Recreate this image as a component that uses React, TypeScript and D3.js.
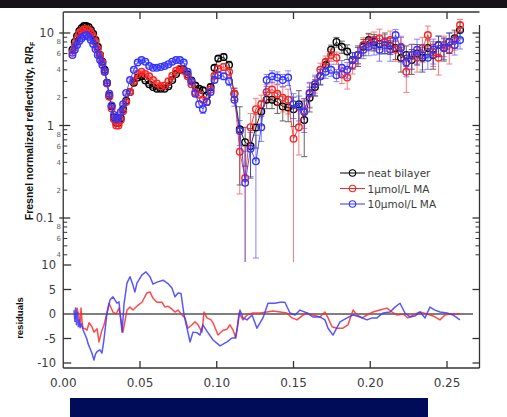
import React from 'react';
import * as d3 from 'd3';

// Momentum transfer grid (1/Å) shared by the three reflectivity curves
const Q = [
  0.006, 0.0075, 0.009, 0.0105, 0.012, 0.0135, 0.015, 0.0165, 0.018, 0.0195,
  0.021, 0.0225, 0.024, 0.0255, 0.027, 0.0285, 0.03, 0.0315, 0.033, 0.0345,
  0.036, 0.0375, 0.039, 0.041, 0.0435, 0.046, 0.0485, 0.051, 0.0535, 0.056,
  0.0585, 0.061, 0.0635, 0.066, 0.0685, 0.071, 0.0735, 0.076, 0.0785, 0.081,
  0.0835, 0.086, 0.0885, 0.091, 0.0935, 0.096, 0.0985, 0.101, 0.1045, 0.108,
  0.1115, 0.115, 0.1185, 0.122, 0.1255, 0.129, 0.1325, 0.136, 0.1395, 0.143,
  0.1465, 0.15, 0.1535, 0.157, 0.1605, 0.164, 0.1675, 0.171, 0.1745, 0.178,
  0.1815, 0.185, 0.1885, 0.192, 0.1955, 0.199, 0.2025, 0.206, 0.2095, 0.213,
  0.2165, 0.22, 0.2235, 0.227, 0.2305, 0.234, 0.2375, 0.241, 0.2445, 0.248,
  0.2515, 0.255, 0.2585,
];

// Fresnel-normalised reflectivity R/RF
const neatBilayer = [
  6.6, 8.0, 9.3, 10.5, 11.3, 11.9, 11.9, 11.6, 10.8, 9.8,
  8.4, 7.1, 5.8, 4.9, 4.0, 2.9, 2.1, 1.6, 1.23, 1.07,
  1.07, 1.2, 1.5, 1.85, 2.3, 2.9, 3.3, 3.4, 3.06, 2.8,
  2.6, 2.5, 2.5, 2.5, 2.65, 3.1, 3.6, 4.0, 4.0, 3.55,
  3.06, 2.7, 2.5, 2.4, 2.1, 2.6, 4.2, 5.3, 5.5, 4.5,
  2.2, 0.91, 0.66, 0.6, 0.95, 1.42, 1.9, 1.9, 1.8, 1.6,
  1.57, 1.5, 1.7, 1.15, 2.0, 2.6, 3.4, 4.5, 6.6, 8.0,
  7.1, 6.3, 5.1, 5.8, 7.1, 8.4, 8.0, 7.6, 8.0, 7.3,
  6.9, 5.4, 5.8, 5.1, 6.0, 5.4, 6.9, 5.8, 7.4, 6.9,
  8.0, 8.8, 10.8,
];
const ma1 = [
  6.1, 7.3, 8.6, 9.8, 10.5, 11.0, 11.0, 10.8, 10.0, 9.1,
  8.0, 6.7, 5.7, 4.8, 3.8, 2.85, 2.05, 1.53, 1.17, 1.0,
  1.0, 1.15, 1.43, 1.8, 2.3, 3.0, 3.6, 3.8, 3.6, 3.4,
  3.1, 2.85, 2.65, 2.7, 3.0, 3.45, 3.9, 4.1, 3.9, 3.4,
  2.8, 2.3, 2.15, 1.9, 1.8, 2.45, 3.45, 4.1, 4.3, 3.8,
  2.2, 0.52, 0.27, 0.96, 1.5, 1.7, 2.3, 2.45, 2.2, 2.0,
  1.9, 0.72, 0.96, 1.43, 2.2, 2.8, 4.0, 4.9, 5.8, 5.4,
  3.55, 3.3, 4.5, 5.8, 7.4, 8.0, 8.4, 8.8, 8.0, 8.4,
  6.6, 7.1, 3.8, 5.8, 5.4, 6.9, 9.5, 6.2, 5.4, 7.4,
  6.6, 8.4, 12.2,
];
const ma10 = [
  5.8, 6.6, 7.4, 8.2, 8.8, 9.3, 9.5, 9.1, 8.4, 7.6,
  6.7, 5.8, 5.1, 4.5, 3.8, 2.9, 2.2, 1.65, 1.3, 1.17,
  1.2, 1.4, 1.7, 2.25, 3.1, 4.0, 4.8, 5.1, 4.9, 4.4,
  4.2, 4.2, 4.3, 4.4, 4.6, 4.9, 5.1, 5.1, 4.8, 3.8,
  3.0, 2.2, 1.7, 1.5, 1.8, 2.3, 3.1, 3.5, 3.4, 3.0,
  1.9, 0.87, 0.24, 0.56, 0.41, 0.96, 3.1, 3.4, 3.3, 3.1,
  3.3, 1.7, 1.6, 1.4, 2.25, 2.8, 3.4, 3.8, 4.0, 3.5,
  4.2, 4.0, 5.1, 5.8, 6.6, 7.1, 7.4, 6.6, 7.4, 6.6,
  9.5, 6.9, 4.8, 5.8, 6.6, 5.7, 5.4, 6.6, 7.4, 6.9,
  8.0, 7.4, 8.4,
];

// Relative uncertainties (dR / R)
const neatBilayerErr = [
  0.02, 0.02, 0.02, 0.02, 0.02, 0.02, 0.02, 0.02, 0.02, 0.02,
  0.02, 0.02, 0.02, 0.02, 0.02, 0.02, 0.02, 0.02, 0.02, 0.02,
  0.02, 0.02, 0.02, 0.03, 0.03, 0.03, 0.03, 0.03, 0.03, 0.03,
  0.03, 0.03, 0.03, 0.03, 0.03, 0.03, 0.03, 0.03, 0.03, 0.03,
  0.03, 0.05, 0.05, 0.06, 0.08, 0.08, 0.06, 0.06, 0.08, 0.1,
  0.15, 0.75, 0.45, 0.55, 0.4, 0.3, 0.2, 0.2, 0.25, 0.3,
  0.3, 0.35, 0.4, 0.6, 0.3, 0.2, 0.18, 0.15, 0.12, 0.12,
  0.15, 0.18, 0.2, 0.25, 0.2, 0.18, 0.2, 0.22, 0.25, 0.2,
  0.25, 0.3, 0.25, 0.3, 0.25, 0.3, 0.22, 0.3, 0.25, 0.28,
  0.25, 0.22, 0.2,
];
const ma1Err = [
  0.02, 0.02, 0.02, 0.02, 0.02, 0.02, 0.02, 0.02, 0.02, 0.02,
  0.02, 0.02, 0.02, 0.02, 0.02, 0.02, 0.02, 0.02, 0.02, 0.02,
  0.02, 0.02, 0.02, 0.03, 0.03, 0.03, 0.03, 0.03, 0.03, 0.03,
  0.03, 0.03, 0.03, 0.03, 0.03, 0.03, 0.03, 0.03, 0.03, 0.03,
  0.03, 0.05, 0.06, 0.06, 0.08, 0.07, 0.06, 0.06, 0.08, 0.1,
  0.15, 0.65, 1.2, 0.4, 0.3, 0.25, 0.2, 0.2, 0.25, 0.3,
  0.3, 1.2, 0.5, 0.35, 0.3, 0.2, 0.18, 0.15, 0.15, 0.15,
  0.2, 0.25, 0.2, 0.2, 0.2, 0.2, 0.22, 0.25, 0.2, 0.25,
  0.25, 0.3, 0.4, 0.3, 0.3, 0.3, 0.25, 0.3, 0.35, 0.25,
  0.3, 0.22, 0.15,
];
const ma10Err = [
  0.02, 0.02, 0.02, 0.02, 0.02, 0.02, 0.02, 0.02, 0.02, 0.02,
  0.02, 0.02, 0.02, 0.02, 0.02, 0.02, 0.02, 0.02, 0.02, 0.02,
  0.02, 0.02, 0.02, 0.03, 0.03, 0.03, 0.03, 0.03, 0.03, 0.03,
  0.03, 0.03, 0.03, 0.03, 0.03, 0.03, 0.03, 0.03, 0.03, 0.03,
  0.03, 0.06, 0.08, 0.1, 0.08, 0.07, 0.06, 0.07, 0.08, 0.1,
  0.15, 0.3, 1.2, 0.5, 0.91, 0.3, 0.15, 0.15, 0.15, 0.15,
  0.18, 0.3, 0.3, 0.4, 0.3, 0.25, 0.2, 0.15, 0.15, 0.15,
  0.2, 0.2, 0.2, 0.2, 0.2, 0.2, 0.22, 0.25, 0.2, 0.25,
  0.15, 0.3, 0.3, 0.3, 0.3, 0.3, 0.25, 0.3, 0.25, 0.25,
  0.25, 0.22, 0.2,
];

// Normalised fit residuals
const res1Q = [
  0.0076, 0.009, 0.0102, 0.0109, 0.0116, 0.0122, 0.0129, 0.0142, 0.0155, 0.0168,
  0.0187, 0.02, 0.022, 0.0233, 0.0252, 0.0265, 0.0285, 0.0298, 0.0324, 0.0344,
  0.0363, 0.0389, 0.0415, 0.0435, 0.0454, 0.0487, 0.0513, 0.0545, 0.0565, 0.0585,
  0.0611, 0.0643, 0.0663, 0.0682, 0.0708, 0.0728, 0.0748, 0.0774, 0.0793, 0.0812,
  0.0839, 0.0858, 0.0878, 0.0904, 0.0917, 0.0936, 0.0963, 0.0976, 0.1008, 0.1041,
  0.1067, 0.1086, 0.1106, 0.1125, 0.1145, 0.1171, 0.1197, 0.1236, 0.1282, 0.1327,
  0.1366, 0.1412, 0.1457, 0.149, 0.1523, 0.1555, 0.1588, 0.1627, 0.1672, 0.1705,
  0.1725, 0.1751, 0.1783, 0.1822, 0.1855, 0.1888, 0.1914, 0.1946, 0.1979, 0.2018,
  0.2063, 0.2109, 0.2142, 0.2174, 0.2213, 0.2246, 0.2292, 0.2324, 0.237, 0.2409,
  0.2454, 0.2487, 0.2519, 0.2584,
];
const res1 = [
  -1.0, 1.2, -0.5, -2.5, 1.2, -1.5, -2.9, -3.0, -3.3, -1.8,
  -2.6, -3.7, -3.0, -5.7, -3.3, -2.3, 0.2, 2.2, 0.4, 0.0,
  1.2, -3.7, 0.8, 1.4, 0.8, 1.8, 2.4, 4.3, 4.5, 3.2,
  2.4, 2.4, 1.4, 1.6, 1.0, 0.4, 0.8, -0.2, -0.8, -2.9,
  -2.2, -1.6, -2.2, -3.7, 0.4, -0.8, -1.2, -1.8, -4.3, -3.3,
  -3.1, -2.2, -3.3, -4.9, 0.2, -1.2, -0.2, 0.2, 0.2, 0.4,
  0.6, 0.4, 0.2, -0.8, -1.2, -0.4, 0.2, -0.2, -0.6, 0.4,
  -0.8, -2.6, -2.9, -2.9, -2.2, 0.8, -0.2, -0.8, -0.2, 0.4,
  0.8, 1.2, 0.4, -0.2, 0.0, -0.8, 0.0, 0.4, 0.0, -0.4,
  -1.2, -0.2, 0.0, 0.0,
];
const res10Q = [
  0.007, 0.0076, 0.008, 0.0086, 0.0092, 0.0098, 0.0104, 0.011, 0.0118, 0.0129,
  0.0142, 0.0155, 0.0161, 0.0174, 0.0187, 0.02, 0.021, 0.022, 0.0239, 0.0252,
  0.0265, 0.0285, 0.0305, 0.0324, 0.035, 0.0363, 0.0383, 0.0396, 0.0415, 0.0435,
  0.0454, 0.0467, 0.048, 0.0513, 0.0539, 0.0565, 0.0585, 0.0611, 0.065, 0.0682,
  0.0708, 0.0728, 0.0748, 0.0767, 0.0787, 0.0806, 0.0826, 0.0845, 0.0871, 0.0891,
  0.091, 0.0936, 0.0976, 0.1021, 0.1067, 0.1099, 0.1119, 0.1132, 0.1151, 0.1171,
  0.1197, 0.123, 0.1262, 0.1301, 0.1334, 0.1379, 0.1412, 0.1444, 0.1477, 0.151,
  0.1542, 0.1588, 0.1627, 0.1672, 0.1705, 0.1725, 0.1757, 0.1803, 0.1849, 0.1888,
  0.1933, 0.1979, 0.2012, 0.2044, 0.2083, 0.2129, 0.2161, 0.2194, 0.2226, 0.2259,
  0.2292, 0.2324, 0.2357, 0.2389, 0.2422, 0.2454, 0.25, 0.2539, 0.2584,
];
const res10 = [
  0.8, -1.5, 1.2, -2.2, 0.3, -2.6, -1.2, -2.8, -2.0, -3.2,
  -4.2, -5.2, -6.0, -7.0, -8.0, -9.4, -8.2, -7.7, -7.3, -8.0,
  -5.3, 0.2, 2.9, 3.5, 2.2, 2.5, -3.7, 2.0, 6.3, 7.6,
  5.9, 4.5, 6.3, 8.0, 8.6, 7.6, 6.1, 6.5, 6.9, 6.2,
  5.3, 3.5, 4.3, 4.2, -0.2, -2.9, -5.7, -3.7, -3.8, -4.3,
  -2.2, -3.5, -5.3, -6.5, -5.7, -4.9, -4.9, -3.3, 0.8, -0.8,
  -1.2, -0.2, -2.9, -0.8, 2.2, 2.2, 2.4, 2.4, 0.2, -0.2,
  0.8, 0.2, -0.6, -0.6, -1.2, -2.9, -4.3, -1.6, -0.8, -0.2,
  -0.6, -1.2, -0.8, -0.8, 0.2, 0.4, 1.4, 2.2, 0.2, -0.6,
  -0.4, 0.4, -0.8, 1.4, 0.8, 0.4, 0.2, -0.2, -1.2,
];

const xTicks = [0, 0.05, 0.1, 0.15, 0.2, 0.25];
const xTickLabels = ['0.00', '0.05', '0.10', '0.15', '0.20', '0.25'];
const logMajorTicks = [0.1, 1, 10];
const logMajorLabels = ['0.1', '1', '10'];
const logMinorMantissas = [2, 3, 4, 5, 6, 7, 8, 9];
const logMinorLabelled = [2, 4, 6, 8];
const resTicks = [10, 5, 0, -5, -10];
const legendLabels = ['neat bilayer', '1\u03bcmol/L MA', '10\u03bcmol/L MA'];

const W = 507;
const H = 417;
const L = 63.25;
const R = 479.5;
const TOP = 12;
const MID = 262;
const BOT = 368;

const axisFont = 'DejaVu Sans, Verdana, sans-serif';
const labelColor = '#3c3c3c';

export default function App() {
  const x = d3.scaleLinear().domain([0, 0.25]).range([L, 447]);
  const y = d3.scaleLog().domain([0.1, 10]).range([218, 33]);
  const yr = d3.scaleLinear().domain([-10, 10]).range([363, 265]);

  const series = [
    { name: legendLabels[0], vals: neatBilayer, err: neatBilayerErr, color: '#000000' },
    { name: legendLabels[1], vals: ma1, err: ma1Err, color: '#ff2424' },
    { name: legendLabels[2], vals: ma10, err: ma10Err, color: '#3434ff' },
  ];

  const line = d3
    .line<[number, number]>()
    .x((d) => x(d[0]))
    .y((d) => y(d[1]));
  const resLine = d3
    .line<[number, number]>()
    .x((d) => x(d[0]))
    .y((d) => yr(d[1]));

  // log-axis minor ticks inside the visible range
  const yLo = y.invert(MID);
  const yHi = y.invert(TOP);
  const minorTicks: { v: number; m: number }[] = [];
  [0.01, 0.1, 1, 10].forEach((dec) => {
    logMinorMantissas.forEach((m) => {
      const v = m * dec;
      if (v >= yLo && v <= yHi) minorTicks.push({ v, m });
    });
  });

  const cap = 3;

  return (
    <svg
      width={W}
      height={H}
      viewBox={`0 0 ${W} ${H}`}
      style={{ position: 'absolute', left: 0, top: 0, background: '#fff' }}
    >
      <defs>
        <clipPath id="clipTop">
          <rect x={L} y={TOP} width={R - L} height={MID - TOP} />
        </clipPath>
        <clipPath id="clipRes">
          <rect x={L} y={MID} width={R - L} height={BOT - MID} />
        </clipPath>
      </defs>
      <rect x={0} y={0} width={W} height={H} fill="#ffffff" />
      <rect x={0} y={0} width={W} height={8} fill="#16121a" />

      {/* reflectivity panel */}
      <g clipPath="url(#clipTop)">
        {series.map((s) => {
          const pts = Q.map((q, i) => [q, s.vals[i]] as [number, number]);
          return (
            <g key={s.name}>
              <g stroke={s.color} strokeWidth={1} opacity={0.6}>
                {Q.map((q, i) => {
                  const v = s.vals[i];
                  const dv = v * s.err[i];
                  const lo = v - dv;
                  const yTopPx = y(v + dv);
                  const yBotPx = lo > 0 ? y(lo) : MID + 10;
                  const cx = x(q);
                  return (
                    <g key={i}>
                      <line x1={cx} x2={cx} y1={yTopPx} y2={yBotPx} />
                      <line x1={cx - cap} x2={cx + cap} y1={yTopPx} y2={yTopPx} />
                      <line x1={cx - cap} x2={cx + cap} y1={yBotPx} y2={yBotPx} />
                    </g>
                  );
                })}
              </g>
              <path d={line(pts) || ''} fill="none" stroke={s.color} strokeWidth={1} opacity={0.85} />
              <g fill="none" stroke={s.color} strokeWidth={1.4}>
                {pts.map((p, i) => (
                  <circle key={i} cx={x(p[0])} cy={y(p[1])} r={3.3} />
                ))}
              </g>
            </g>
          );
        })}
      </g>

      {/* residual panel */}
      <line x1={L + 8} x2={473} y1={yr(0)} y2={yr(0)} stroke="#555" strokeWidth={1.5} />
      <g clipPath="url(#clipRes)" fill="none" strokeWidth={1.5} strokeLinejoin="round">
        <path
          d={resLine(res1Q.map((q, i) => [q, res1[i]] as [number, number])) || ''}
          stroke="#ff2a2a"
          opacity={0.85}
        />
        <path
          d={resLine(res10Q.map((q, i) => [q, res10[i]] as [number, number])) || ''}
          stroke="#3a3aff"
          opacity={0.85}
        />
      </g>

      {/* frame */}
      <g stroke="#333" strokeWidth={1.3} fill="none">
        <line x1={L} x2={R} y1={TOP} y2={TOP} />
        <line x1={L} x2={L} y1={TOP} y2={BOT} />
        <line x1={R} x2={R} y1={25} y2={BOT} />
        <line x1={L} x2={R} y1={BOT} y2={BOT} />
      </g>

      {/* x ticks */}
      <g stroke="#333" strokeWidth={1.3}>
        {xTicks.slice(1).map((t) => (
          <line key={'t' + t} x1={x(t)} x2={x(t)} y1={TOP} y2={TOP + 7} />
        ))}
        {xTicks.slice(1).map((t) => (
          <line key={'b' + t} x1={x(t)} x2={x(t)} y1={BOT} y2={BOT - 7} />
        ))}
      </g>
      <g fontFamily={axisFont} fontSize={12} fill={labelColor} textAnchor="middle">
        {xTicks.map((t, i) => (
          <text key={t} x={x(t)} y={387}>
            {xTickLabels[i]}
          </text>
        ))}
      </g>

      {/* log axis ticks, both sides */}
      <g stroke="#333" strokeWidth={1}>
        {logMajorTicks.map((t) => (
          <g key={t}>
            <line x1={L - 4} x2={L + 7} y1={y(t)} y2={y(t)} strokeWidth={1.3} />
            <line x1={R} x2={R - 7} y1={y(t)} y2={y(t)} strokeWidth={1.3} />
          </g>
        ))}
        {minorTicks.map((t) => (
          <g key={t.v}>
            <line x1={L} x2={L + 4} y1={y(t.v)} y2={y(t.v)} />
            <line x1={R} x2={R - 4} y1={y(t.v)} y2={y(t.v)} />
          </g>
        ))}
      </g>
      <g fontFamily={axisFont} fontSize={11.5} fill={labelColor} textAnchor="end">
        {logMajorTicks.map((t, i) => (
          <text key={t} x={54} y={y(t) + 4.2}>
            {logMajorLabels[i]}
          </text>
        ))}
      </g>
      <g fontFamily={axisFont} fontSize={7} fill="#666" textAnchor="end">
        {minorTicks
          .filter((t) => logMinorLabelled.includes(t.m))
          .map((t) => (
            <text key={t.v} x={61} y={y(t.v) + 2.5}>
              {t.m}
            </text>
          ))}
      </g>

      {/* residual axis ticks */}
      <g stroke="#333" strokeWidth={1.3}>
        {resTicks.map((t) => (
          <g key={t}>
            <line x1={L} x2={L + 8} y1={yr(t)} y2={yr(t)} />
            {t !== 0 && t !== 10 && <line x1={R} x2={R - 7} y1={yr(t)} y2={yr(t)} />}
          </g>
        ))}
      </g>
      <g fontFamily={axisFont} fontSize={11.5} fill={labelColor} textAnchor="end">
        {resTicks.map((t) => (
          <text key={t} x={56} y={yr(t) + 4}>
            {String(t)}
          </text>
        ))}
      </g>

      {/* axis titles */}
      <text
        transform="translate(32.5,131) rotate(-90)"
        textAnchor="middle"
        fontFamily="Liberation Sans, Arial, sans-serif"
        fontWeight="bold"
        fontSize={10.5}
        fill="#111"
      >
        Fresnel normalized reflectivity, R/R
        <tspan fontSize={7} dy={2}>
          F
        </tspan>
      </text>
      <text
        transform="translate(23,318) rotate(-90)"
        textAnchor="middle"
        fontFamily="Liberation Sans, Arial, sans-serif"
        fontWeight="bold"
        fontSize={9.5}
        fill="#111"
      >
        residuals
      </text>

      {/* legend */}
      <g>
        {series.map((s, i) => {
          const ly = 173 + i * 15.5;
          return (
            <g key={s.name}>
              <line x1={340} x2={365} y1={ly} y2={ly} stroke={s.color} strokeWidth={1} />
              <circle cx={352.5} cy={ly} r={3.2} fill="none" stroke={s.color} strokeWidth={1.1} />
              <text
                x={367.5}
                y={ly + 4}
                fontFamily={axisFont}
                fontSize={10.5}
                fill={labelColor}
              >
                {s.name}
              </text>
            </g>
          );
        })}
      </g>

      <rect x={70} y={398} width={358} height={19} fill="#000c58" />
    </svg>
  );
}
